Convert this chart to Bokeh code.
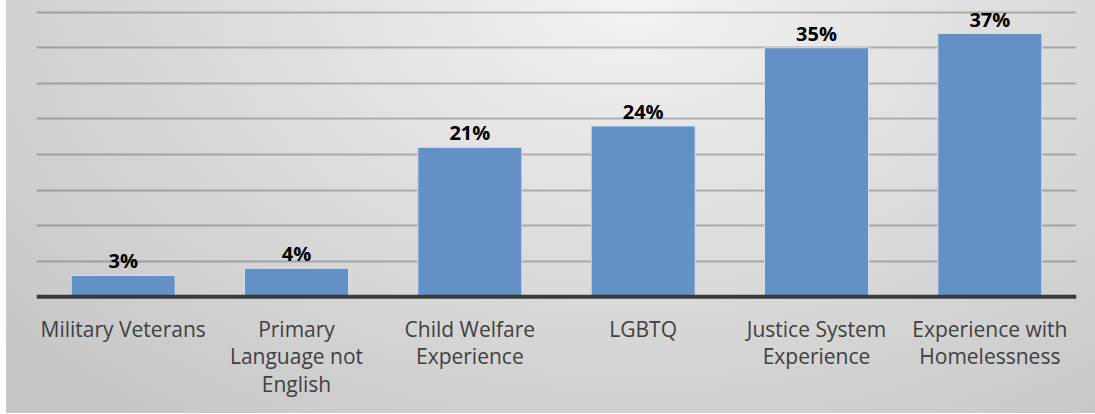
from bokeh.plotting import figure
from bokeh.models import ColumnDataSource, Range1d, FactorRange, Span
from bokeh.core.properties import value
from bokeh.embed import file_html
from bokeh.resources import INLINE

categories = ["Military Veterans", "Primary Language not English", "Child Welfare Experience",
              "LGBTQ", "Justice System Experience", "Experience with Homelessness"]
tick_labels = ["Military Veterans", "Primary\nLanguage not\nEnglish", "Child Welfare\nExperience",
               "LGBTQ", "Justice System\nExperience", "Experience with\nHomelessness"]
values = [3, 4, 21, 24, 35, 37]
value_labels = ["3%", "4%", "21%", "24%", "35%", "37%"]
grid_ticks = [5, 10, 15, 20, 25, 30, 35, 40]

src = ColumnDataSource(dict(cat=categories, val=values, lab=value_labels))

p = figure(x_range=FactorRange(*categories, range_padding=0), y_range=Range1d(-16.4, 41.64),
           width=1095, height=413, output_backend="svg", toolbar_location=None,
           min_border_left=36, min_border_right=19, min_border_top=0, min_border_bottom=0)

p.background_fill_alpha = 0
p.border_fill_alpha = 0
p.outline_line_color = None
p.styles = {"background-image": "linear-gradient(to right, #ffffff 0px, #ffffff 6px, rgba(255,255,255,0) 6px), "
                                "radial-gradient(ellipse 75% 130% at 58% 0%, #f3f3f3 0%, #dedede 45%, #c6c6c6 100%)"}

p.xaxis.visible = False
p.yaxis.visible = False
p.xgrid.grid_line_color = None
p.ygrid.ticker = grid_ticks
p.ygrid.grid_line_color = "#000000"
p.ygrid.grid_line_alpha = 0.24
p.ygrid.grid_line_width = 1.8

p.vbar(x="cat", top="val", width=0.6, source=src, fill_color="#6390c5", fill_alpha=1,
       line_color="#d3deec", line_width=1)

p.add_layout(Span(location=0, dimension="width", line_color="#3a3a3a", line_width=4))

p.text(x="cat", y="val", text="lab", source=src, text_font=value("Open Sans"),
       text_font_style="bold", text_font_size="20px", text_color="#000000",
       text_align="center", text_baseline="bottom", y_offset=-1)

# category tick labels, one text row per label line
split_labels = [t.split("\n") for t in tick_labels]
n_lines = max(len(s) for s in split_labels)
for k in range(n_lines):
    cats = [c for c, s in zip(categories, split_labels) if len(s) > k]
    texts = [s[k] for s in split_labels if len(s) > k]
    lsrc = ColumnDataSource(dict(cat=cats, txt=texts, y0=[0] * len(cats)))
    p.text(x="cat", y="y0", text="txt", source=lsrc, text_font=value("Open Sans"),
           text_font_size="21px", text_color="#404040", text_align="center",
           text_baseline="alphabetic", y_offset=32 + 27.5 * k)

open("out.html", "w").write(file_html(p, INLINE))
